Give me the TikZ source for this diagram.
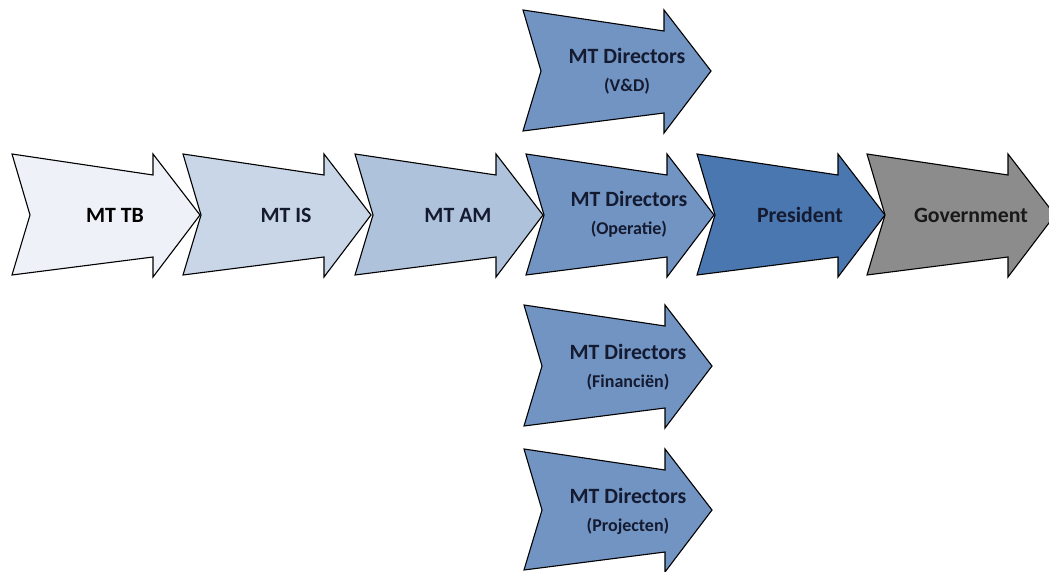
\documentclass[tikz,border=0pt]{standalone}
\usepackage{fontspec}
\setmainfont{Carlito}
\begin{document}
\definecolor{cTB}{HTML}{EEF2F8}
\definecolor{cIS}{HTML}{C9D6E7}
\definecolor{cAM}{HTML}{AFC2DC}
\definecolor{cDir}{HTML}{7294C3}
\definecolor{cPres}{HTML}{4A77AF}
\definecolor{cGov}{HTML}{8C8C8C}
\definecolor{txtNavy}{HTML}{141A30}
\tikzset{
  arrowshape/.style={draw=black, line width=1.1pt, line join=miter},
  bigtxt/.style={font=\bfseries\fontsize{21.8}{24}\selectfont, text=txtNavy, inner sep=0pt},
  smalltxt/.style={font=\bfseries\fontsize{18}{20}\selectfont, text=txtNavy, inner sep=0pt},
}
% skewed block arrow: #1 = left x, #2 = centre y, #3 = fill colour
\newcommand\blockarrow[3]{%
  \fill[#3] (#1,#2) ++(0,-61) -- ++(141,21) -- ++(0,-21) -- ++(47,61)
    -- ++(-47,62) -- ++(0,-20) -- ++(-141,18) -- ++(18,-60) -- cycle;
  \draw[arrowshape] (#1,#2) ++(0,-61) -- ++(141,21) -- ++(0,-21) -- ++(47,61)
    -- ++(-47,62) -- ++(0,-20) -- ++(-141,18) -- ++(18,-60) -- cycle;
}
\begin{tikzpicture}[x=1pt,y=-1pt]
\clip (0,0) rectangle (1049,572);
\fill[white] (0,0) rectangle (1049,572);

% main chain
\blockarrow{12}{215}{cTB}
\blockarrow{183}{215}{cIS}
\blockarrow{355}{215}{cAM}
\blockarrow{526}{215}{cDir}
\blockarrow{697}{215}{cPres}
\blockarrow{867}{215}{cGov}

% stacked directors
\blockarrow{523}{71}{cDir}
\blockarrow{524}{366}{cDir}
\blockarrow{524}{510}{cDir}

% labels
\node[bigtxt, text=black] (tb) at (115,215) {MT TB};
\node[bigtxt] (is) at (286,215) {MT IS};
\node[bigtxt] (am) at (458,215) {MT AM};
\node[bigtxt] (pres) at (800,215) {President};
\node[bigtxt, text=black!90] (gov) at (971,215) {Government};

\node[bigtxt] (opA) at (629,199) {MT Directors};
\node[smalltxt] (opB) at (629,229) {(Operatie)};
\node[bigtxt] (vdA) at (627,56) {MT Directors};
\node[smalltxt] (vdB) at (627,86) {(V\&D)};
\node[bigtxt] (fiA) at (628,352) {MT Directors};
\node[smalltxt] (fiB) at (628,382) {(Financiën)};
\node[bigtxt] (prA) at (628,496) {MT Directors};
\node[smalltxt] (prB) at (628,526) {(Projecten)};
\end{tikzpicture}
\end{document}
